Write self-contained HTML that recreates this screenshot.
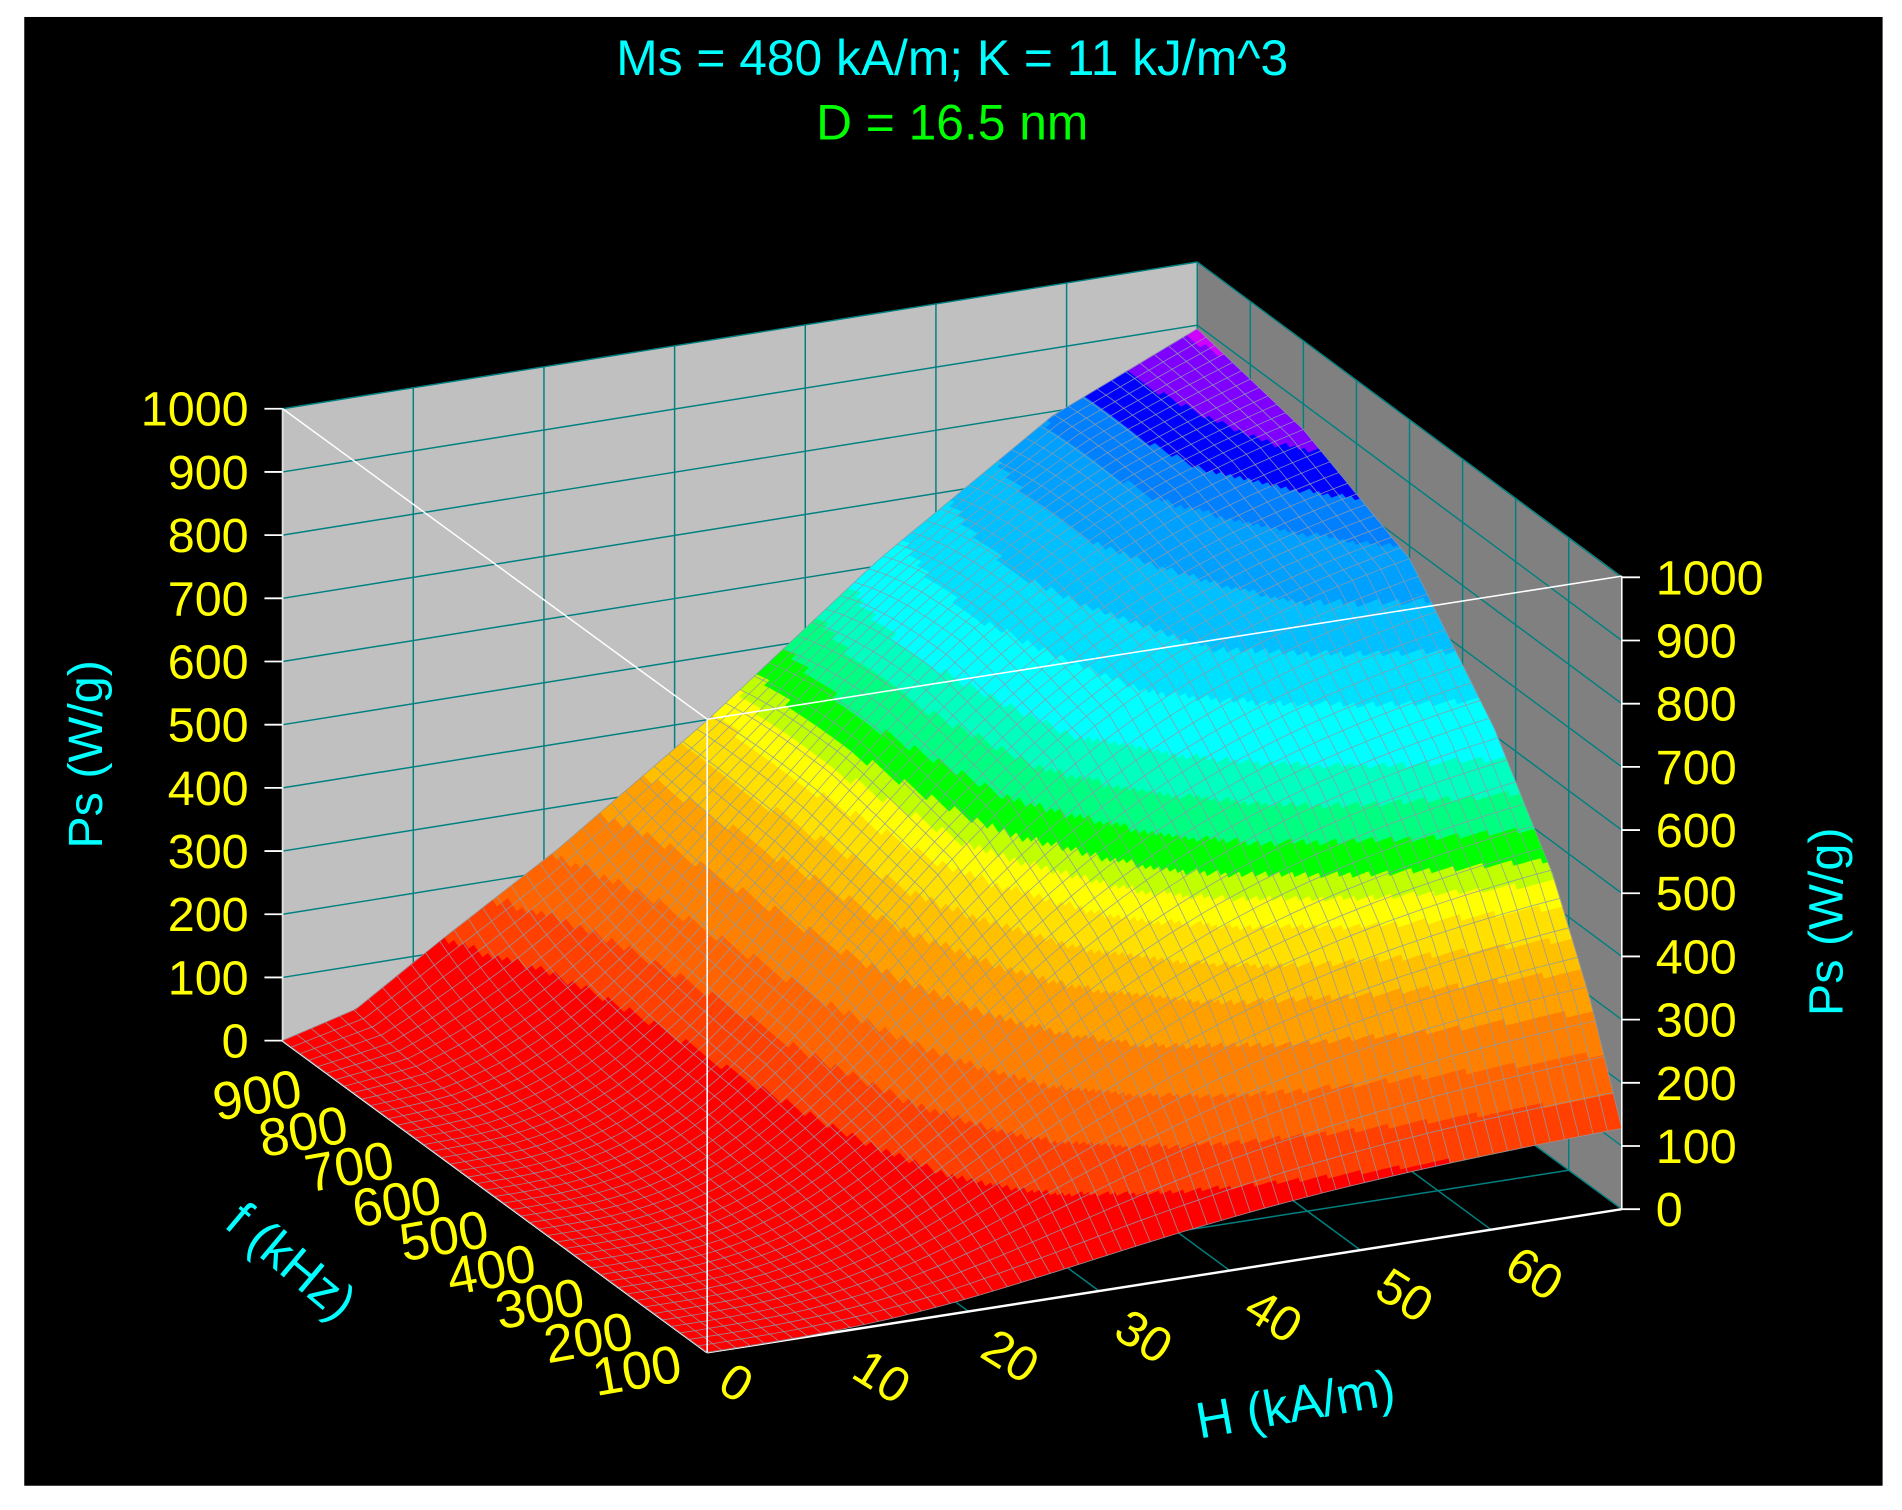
<!DOCTYPE html>
<html><head><meta charset="utf-8"><style>
html,body{margin:0;padding:0;background:#fff;}
svg{display:block;}
text{font-family:"Liberation Sans",Arial,sans-serif;}
</style></head><body>
<svg id="s" width="1902" height="1510" viewBox="0 0 1568 1245" preserveAspectRatio="none" xmlns="http://www.w3.org/2000/svg">
<rect x="0" y="0" width="1568" height="1245" fill="#fff"/>
<rect x="20" y="14" width="1532" height="1211" fill="#000"/>
<text x="785" y="62" fill="#00ffff" font-size="41" text-anchor="middle">Ms = 480 kA/m; K = 11 kJ/m^3</text>
<text x="785" y="115" fill="#00ff00" font-size="41" text-anchor="middle">D = 16.5 nm</text>
<g id="walls"></g>
<g id="surf"></g>
<g id="mesh"></g>
<g id="over"></g>
</svg>
<script>
(function(){
var NS="http://www.w3.org/2000/svg";
var F0=[583,1115],R=[1337,997],L=[233,858],K=0.521;
function fl(u,v){return [F0[0]+u*(R[0]-F0[0])+v*(L[0]-F0[0]), F0[1]+u*(R[1]-F0[1])+v*(L[1]-F0[1])];}
function P(u,v,ps){var p=fl(u,v);return [p[0],p[1]-ps*K];}
function interp(pts,x){for(var i=1;i<pts.length;i++){if(x<=pts[i][0]){var a=pts[i-1],b=pts[i];return a[1]+(b[1]-a[1])*(x-a[0])/(b[0]-a[0]);}}return pts[pts.length-1][1];}
var G=[[0,0],[0.08,0.035],[0.176,0.136],[0.3,0.26],[0.464,0.446],[0.65,0.68],[0.842,0.887],[1,1]];
var H=[[0,0.142],[0.077,0.333],[0.163,0.5],[0.3,0.68],[0.5,0.87],[0.75,0.96],[1,1]];
function sig(u){var a3=0.14;return (u*u*u/(u*u*u+a3))/(1/(1+a3));}
function ps(u,v){var w=Math.pow(v,6);var g=(1-w)*sig(u)+w*interp(G,u);return 900*g*interp(H,v);}
var C=[[118,"#ff0000"],[170,"#ff4000"],[225,"#ff6400"],[280,"#ff8000"],[330,"#ffa000"],[370,"#ffc000"],[410,"#ffe000"],[440,"#ffff00"],[465,"#c0ff00"],[500,"#00ff00"],[540,"#00ff80"],[580,"#00ffc0"],[640,"#00ffff"],[690,"#00e0ff"],[740,"#00c0ff"],[790,"#00a0ff"],[820,"#0080ff"],[850,"#0000ff"],[890,"#8000ff"],[2000,"#d000ff"]];
function col(p){for(var i=0;i<C.length;i++)if(p<C[i][0])return C[i][1];return "#d000ff";}
function el(t,a,par){var e=document.createElementNS(NS,t);for(var k in a)e.setAttribute(k,a[k]);if(par)par.appendChild(e);return e;}
function pts(a){return a.map(function(p){return p[0].toFixed(1)+","+p[1].toFixed(1);}).join(" ");}
var W=document.getElementById("walls"),S=document.getElementById("surf"),M=document.getElementById("mesh"),O=document.getElementById("over");
el("polygon",{points:pts([[233,337],[987,216],[987,737],[233,858]]),fill:"#c0c0c0"},W);
el("polygon",{points:pts([[987,216],[1337,475],[1337,997],[987,737]]),fill:"#808080"},W);
var teal="#008080";
for(var k=1;k<=10;k++){var d=k*52.1;
 el("line",{x1:233,y1:858-d,x2:987,y2:737-d,stroke:teal,"stroke-width":1.2},W);
 el("line",{x1:987,y1:737-d,x2:1337,y2:997-d,stroke:teal,"stroke-width":1.2},W);}
for(var k=1;k<=7;k++){var u=k/7;var x=233+754*u,y=858-121*u;
 el("line",{x1:x,y1:y,x2:x,y2:y-521,stroke:teal,"stroke-width":1.2},W);
 var a=fl(u,0),b=fl(u,1);el("line",{x1:a[0],y1:a[1],x2:b[0],y2:b[1],stroke:teal,"stroke-width":1.2},W);}
for(var k=0;k<=8;k++){var v=k/8;var x=987+350*(1-v),y=737+260*(1-v);
 if(k>0&&k<8)el("line",{x1:x,y1:y,x2:x,y2:y-521,stroke:teal,"stroke-width":1.2},W);
 var a=fl(0,v),b=fl(1,v);el("line",{x1:a[0],y1:a[1],x2:b[0],y2:b[1],stroke:teal,"stroke-width":1.2},W);}
el("line",{x1:583,y1:1115,x2:1337,y2:997,stroke:"#fff","stroke-width":2},W);
el("line",{x1:583,y1:1115,x2:233,y2:858,stroke:"#fff","stroke-width":2},W);
el("line",{x1:233,y1:337,x2:233,y2:858,stroke:"#e0e0e0","stroke-width":1.5},W);
el("line",{x1:233,y1:337,x2:583,y2:593,stroke:"#fff","stroke-width":1.2},W);
// surface fill, nonuniform v (finer near v=0)
var NU=170,NV=150,cells=[];
function vv(j){var t=j/NV;return t*t*0.6+t*0.4;}
for(var i=0;i<NU;i++)for(var j=0;j<NV;j++)cells.push([i,j,i/NU+vv(j)]);
cells.sort(function(a,b){return b[2]-a[2];});
var frag=document.createDocumentFragment();
cells.forEach(function(c){var u0=c[0]/NU,u1=(c[0]+1)/NU,v0=vv(c[1]),v1=vv(c[1]+1);
 var cl=col(ps((u0+u1)/2,(v0+v1)/2));
 var poly=[P(u0,v0,ps(u0,v0)),P(u1,v0,ps(u1,v0)),P(u1,v1,ps(u1,v1)),P(u0,v1,ps(u0,v1))];
 el("polygon",{points:pts(poly),fill:cl,stroke:cl,"stroke-width":0.5},frag);});
S.appendChild(frag);
var MU=64,MV=48,mf=document.createDocumentFragment();
for(var i=0;i<=MU;i++){var u=i/MU,a=[];for(var j=0;j<=60;j++){var v=j/60;a.push(P(u,v,ps(u,v)));}
 el("polyline",{points:pts(a),fill:"none",stroke:"#8c9aa8","stroke-width":0.7,"stroke-opacity":0.85},mf);}
for(var j=0;j<=MV;j++){var v=j/MV,a=[];for(var i=0;i<=50;i++){var u=i/50;a.push(P(u,v,ps(u,v)));}
 el("polyline",{points:pts(a),fill:"none",stroke:"#8c9aa8","stroke-width":0.7,"stroke-opacity":0.85},mf);}
M.appendChild(mf);
el("line",{x1:583,y1:593,x2:583,y2:1115,stroke:"#fff","stroke-width":1.3},O);
el("line",{x1:583,y1:593,x2:1337,y2:475,stroke:"#fff","stroke-width":1.3},O);
el("line",{x1:1337,y1:475,x2:1337,y2:997,stroke:"#fff","stroke-width":1.3},O);
var Y="#ffff00";
for(var k=0;k<=10;k++){var v=k*100;
 var t=el("text",{x:205,y:858-k*52.1+14,fill:Y,"font-size":40,"text-anchor":"end"},O);t.textContent=v;
 var t2=el("text",{x:1365,y:997-k*52.1+14,fill:Y,"font-size":40},O);t2.textContent=v;
 el("line",{x1:1337,y1:997-k*52.1,x2:1352,y2:997-k*52.1,stroke:"#fff","stroke-width":1.5},O);
 el("line",{x1:218,y1:858-k*52.1,x2:233,y2:858-k*52.1,stroke:"#fff","stroke-width":1.5},O);}
var hx=[[607,1140],[727,1135],[833,1118],[943,1102],[1050,1085],[1158,1068],[1265,1050]];
hx.forEach(function(p,i){var t=el("text",{x:p[0],y:p[1],fill:Y,"font-size":41,"text-anchor":"middle",transform:"rotate(32 "+p[0]+" "+p[1]+")"},O);t.textContent=i*10;t.setAttribute("dy","14");});
var fx=[[525,1130],[485,1103],[445,1075],[405,1047],[366,1019],[327,991],[288,962],[250,933],[212,903]];
fx.forEach(function(p,i){var t=el("text",{x:p[0],y:p[1],fill:Y,"font-size":44,"text-anchor":"middle",transform:"rotate(-10 "+p[0]+" "+p[1]+")"},O);t.textContent=(i+1)*100;t.setAttribute("dy","15");});
var c="#00ffff";
var t=el("text",{x:70,y:622,fill:c,"font-size":40,"text-anchor":"middle",transform:"rotate(-90 70 622)"},O);t.textContent="Ps (W/g)";t.setAttribute("dy","14");
t=el("text",{x:1505,y:760,fill:c,"font-size":40,"text-anchor":"middle",transform:"rotate(-90 1505 760)"},O);t.textContent="Ps (W/g)";t.setAttribute("dy","14");
t=el("text",{x:1068,y:1158,fill:c,"font-size":42,"text-anchor":"middle",transform:"rotate(-10 1068 1158)"},O);t.textContent="H (kA/m)";t.setAttribute("dy","14");
t=el("text",{x:240,y:1040,fill:c,"font-size":42,"text-anchor":"middle",transform:"rotate(40 240 1040)"},O);t.textContent="f (kHz)";t.setAttribute("dy","14");
})();
</script>
</body></html>
